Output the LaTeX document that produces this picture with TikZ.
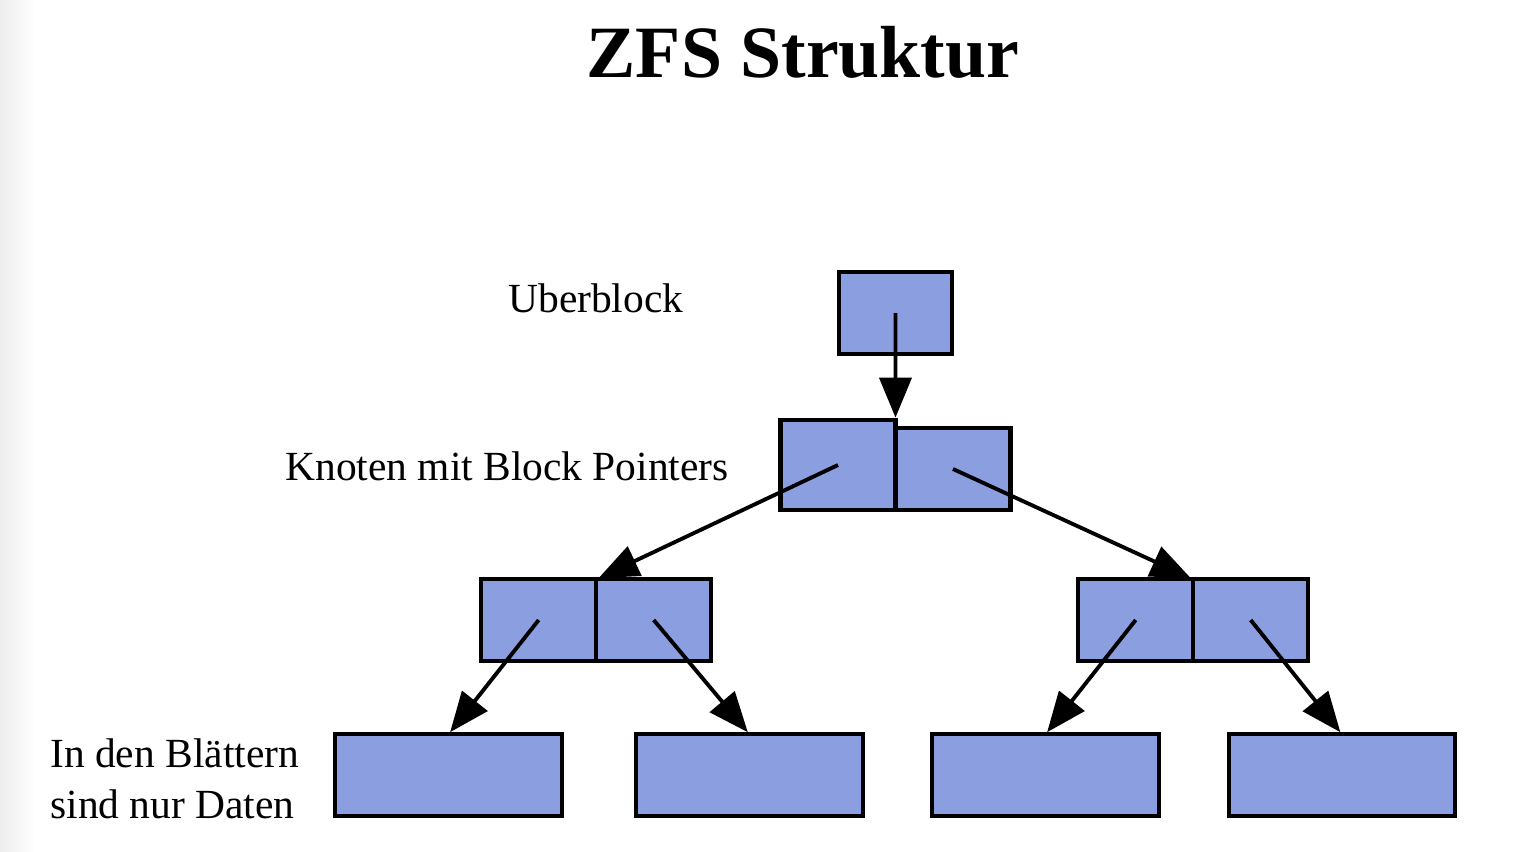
\documentclass[tikz,border=0pt]{standalone}
\usepackage{fontspec}
\setmainfont{Liberation Serif}
\usetikzlibrary{arrows.meta,positioning}
\definecolor{zfsblue}{RGB}{139,158,224}

\begin{document}
\begin{tikzpicture}[
        x=0.02cm, y=-0.02cm,
        cell/.style={rectangle, draw, line width=2.5pt, fill=zfsblue, minimum width=2.3cm, minimum height=1.63cm, inner sep=0pt, outer sep=0pt},
        leafcell/.style={cell, minimum width=4.53cm},
        ptr/.style={-{Triangle[length=0.8cm, width=0.64cm]}, line width=2.2pt, shorten >=1.5pt},
        lbl/.style={font=\fontsize{23.6}{29}\selectfont, align=left, inner sep=0pt}
    ]
        \useasboundingbox (0,0) rectangle (1516,852);
        \shade[left color=black!7, right color=white] (0,0) rectangle (36,852);

        \node[font=\fontsize{42}{48}\selectfont\bfseries, anchor=base, inner sep=0pt] (title) at (803,77) {ZFS Struktur};

        % Uberblock
        \node[cell, minimum width=2.25cm] (ub) at (895.5,313) {};
        % Knoten mit Block Pointers
        \node[cell, minimum height=1.79cm] (k1a) at (838,465) {};
        \node[cell] (k1b) at (953,469) {};
        \node[cell] (l2a) at (538.7,620) {};
        \node[cell] (l2b) at (653.7,620) {};
        \node[cell] (r2a) at (1135.7,620) {};
        \node[cell] (r2b) at (1250.7,620) {};
        % Blaetter
        \node[leafcell] (d1) at (448.5,775) {};
        \node[leafcell] (d2) at (749.5,775) {};
        \node[leafcell] (d3) at (1045.5,775) {};
        \node[leafcell] (d4) at (1342,775) {};

        \node[lbl, anchor=base west] (ublbl) at (508,312) {Uberblock};
        \node[lbl, anchor=base west] (k1lbl) at (285,480) {Knoten mit Block Pointers};
        \node[lbl, anchor=west] (dlbl) at (50,779) {In den Blättern\\sind nur Daten};

        \draw[ptr] (ub.center) -- (k1a.north east);
        \draw[ptr] (k1a.center) -- (l2a.north east);
        \draw[ptr] (k1b.center) -- (r2a.north east);
        \draw[ptr] (l2a.center) -- (d1.north);
        \draw[ptr] (l2b.center) -- (d2.north);
        \draw[ptr] (r2a.center) -- (d3.north);
        \draw[ptr] (r2b.center) -- (d4.north);
    \end{tikzpicture}
\end{document}
